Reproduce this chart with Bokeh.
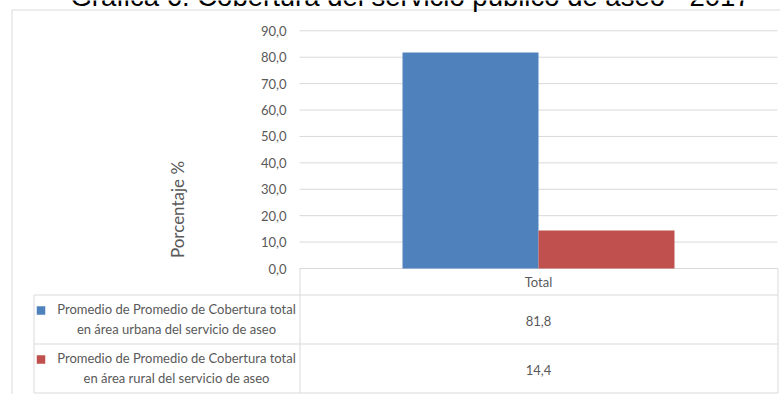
import math
from bokeh.plotting import figure
from bokeh.models import Range1d, ColumnDataSource
from bokeh.transform import dodge
from bokeh.core.properties import value
from bokeh.embed import file_html
from bokeh.resources import INLINE

# ---------------- data ----------------
title_text = "Gráfica 6. Cobertura del servicio público de aseo - 2017"
categories = ["Total"]
series_names = [
    "Promedio de Promedio de Cobertura total\nen área urbana del servicio de aseo",
    "Promedio de Promedio de Cobertura total\nen área rural del servicio de aseo",
]
urbana = [81.8]
rural = [14.4]
series_colors = ["#4f81bd", "#c0504d"]
y_ticks = [0, 10, 20, 30, 40, 50, 60, 70, 80, 90]
y_tick_labels = ["0,0", "10,0", "20,0", "30,0", "40,0", "50,0", "60,0", "70,0", "80,0", "90,0"]
y_axis_label = "Porcentaje %"

# ---------------- layout (pixels) ----------------
W, H = 780, 394
PL, PR = 299, 777            # plot area left/right
Y0 = 268                     # pixel of value 0
K = (268 - 30.3) / 90        # pixels per unit
CAT_W = PR - PL              # pixels per category
BW = 136 / CAT_W             # bar width in category units

def X(px):
    return (px - (PL + PR) / 2) / CAT_W

def Y(py):
    return (Y0 - py) / K

GRID = "#d9d9d9"
TXT = "#595959"
FONT = value("Lato")

p = figure(width=W, height=H, x_range=Range1d(X(0), X(W)), y_range=Range1d(Y(H), Y(0)),
           x_axis_type=None, y_axis_type=None, min_border=0, toolbar_location=None,
           output_backend="svg", outline_line_color=None,
           background_fill_color="white", border_fill_color="white")
p.grid.visible = False

# outer chart border (top & left)
p.segment(x0=[X(11.5), X(11.5)], y0=[Y(9.5), Y(9.5)], x1=[X(W), X(11.5)], y1=[Y(9.5), Y(H)],
          line_color=GRID, line_width=1)

# gridlines
p.segment(x0=[X(PL)] * len(y_ticks), x1=[X(PR)] * len(y_ticks), y0=y_ticks, y1=y_ticks,
          line_color=GRID, line_width=1)

# bars
cat_x = list(range(len(categories)))
src = ColumnDataSource(dict(x=cat_x, urbana=urbana, rural=rural))
p.vbar(x=dodge("x", -BW / 2), top="urbana", bottom=0, width=BW, source=src,
       fill_color=series_colors[0], line_color=None)
p.vbar(x=dodge("x", BW / 2), top="rural", bottom=0, width=BW, source=src,
       fill_color=series_colors[1], line_color=None)

# y tick labels
p.text(x=[X(286)] * len(y_ticks), y=y_ticks, text=y_tick_labels, text_align="right",
       text_baseline="middle", text_font=FONT, text_font_size="13px", text_color=TXT)

# y axis label
p.text(x=[X(177)], y=[Y(209)], text=[y_axis_label], angle=math.pi / 2, text_align="center",
       text_baseline="middle", text_font=FONT, text_font_size="17px", text_color=TXT)

# data table lines
hy = [294.5, 343.5, 392.5]
p.segment(x0=[X(33.5)] * 3, x1=[X(PR + 0.5)] * 3, y0=[Y(v) for v in hy], y1=[Y(v) for v in hy],
          line_color=GRID, line_width=1)
vx = [33.5, PL + 0.5, PR + 0.5]
vtop = [294.5, Y0, Y0]
p.segment(x0=[X(v) for v in vx], x1=[X(v) for v in vx], y0=[Y(v) for v in vtop],
          y1=[Y(392.5)] * 3, line_color=GRID, line_width=1)

# category label in table header
p.text(x=[X((PL + PR) / 2)] * len(categories), y=[Y(281)] * len(categories), text=categories,
       text_align="center", text_baseline="middle", text_font=FONT,
       text_font_size="13px", text_color=TXT)

# table rows: legend keys, names, values
row_tops = [294.5, 343.5]
all_vals = [urbana, rural]
for i, (name, vals, col) in enumerate(zip(series_names, all_vals, series_colors)):
    top = row_tops[i]
    lines = name.split("\n")
    mid1 = top + 14
    p.rect(x=[X(40.5)], y=[Y(top + 15.5)], width=8.5 / CAT_W, height=8.5 / K,
           fill_color=col, line_color=None)
    p.text(x=[X(176)] * len(lines), y=[Y(mid1 + 20 * j) for j in range(len(lines))],
           text=lines, text_align="center", text_baseline="middle", text_font=FONT,
           text_font_size="13px", text_color=TXT)
    labels = [f"{v:.1f}".replace(".", ",") for v in vals]
    p.text(x=[X((PL + PR) / 2)] * len(labels), y=[Y(top + 25.5)] * len(labels), text=labels,
           text_align="center", text_baseline="middle", text_font=FONT,
           text_font_size="13px", text_color=TXT)

# title (top cut off, as in the reference)
p.text(x=[X(410)], y=[Y(-4.5)], text=[title_text], text_align="center",
       text_baseline="middle", text_font=value("Liberation Sans"),
       text_font_size="27.5px", text_color="#000000")

open("out.html", "w").write(file_html(p, INLINE))
